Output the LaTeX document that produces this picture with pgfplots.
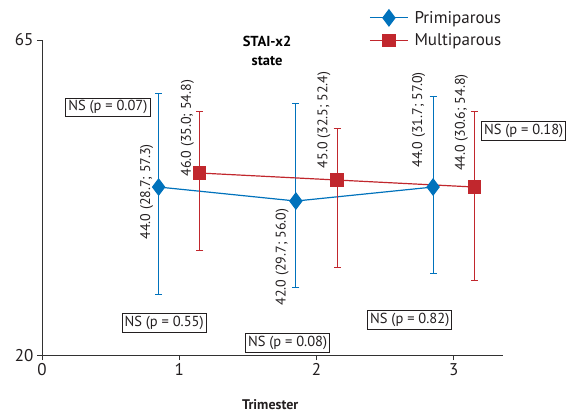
\documentclass[border=0pt]{standalone}
\usepackage{fontspec}
\setmainfont{PT Sans}
\usepackage{pgfplots}
\pgfplotsset{compat=1.18}
\definecolor{pblue}{RGB}{0,114,188}
\definecolor{mred}{RGB}{193,39,45}
\definecolor{axgray}{RGB}{50,50,50}
\definecolor{txt}{RGB}{35,31,32}

\begin{document}
\begin{tikzpicture}
\begin{axis}[
  scale only axis, width=461pt, height=315pt,
  xmin=0, xmax=3.36, ymin=20, ymax=65,
  axis x line*=bottom, axis y line*=left,
  axis line style={-, axgray, line width=1pt},
  xtick={0,1,2,3}, ytick={20,65},
  tick align=outside, major tick length=5pt,
  tick style={axgray, line width=0.9pt},
  tick label style={font=\fontsize{17}{19}\selectfont, text=txt},
  /pgf/number format/assume math mode=true,
  xlabel={\textbf{Trimester}},
  xlabel style={at={(axis description cs:0.495,0)}, anchor=center, yshift=-50pt,
    font=\fontsize{14}{16}\selectfont, text=txt},
  clip=false,
  legend style={at={(0.703,1.105)}, anchor=north west, draw=none, fill=none,
    font=\fontsize{17}{19}\selectfont, text=txt, row sep=5pt,
    /tikz/every odd column/.append style={column sep=4pt}},
  legend cell align=left,
  legend image code/.code={
    \draw[mark repeat=2, mark phase=2] plot coordinates {(0pt,0pt) (19pt,0pt) (38pt,0pt)};},
  every node/.append style={text=txt},
]
% Primiparous: median (min; max)
\addplot[pblue, line width=1.2pt, mark=diamond*, mark size=8pt,
  error bars/.cd, y dir=both, y explicit,
  error bar style={line width=0.9pt, pblue},
  error mark options={rotate=90, mark size=3.5pt, line width=0.9pt, pblue}]
  coordinates {
  (0.85,44.0) += (0,13.3) -= (0,15.3)
  (1.85,42.0) += (0,14.0) -= (0,12.3)
  (2.85,44.0) += (0,13.0) -= (0,12.3)
};
\addlegendentry{Primiparous}
% Multiparous
\addplot[mred, line width=1.2pt, mark=square*, mark size=6pt,
  error bars/.cd, y dir=both, y explicit,
  error bar style={line width=0.9pt, mred},
  error mark options={rotate=90, mark size=3.5pt, line width=0.9pt, mred}]
  coordinates {
  (1.15,46.0) += (0,8.8) -= (0,11.0)
  (2.15,45.0) += (0,7.4) -= (0,12.5)
  (3.15,44.0) += (0,10.8) -= (0,13.4)
};
\addlegendentry{Multiparous}

% value labels
\begin{scope}[every node/.style={rotate=90, font=\fontsize{14}{16}\selectfont, text=txt}]
\node at (axis cs:0.763,43.3) {44.0 (28.7; 57.3)};
\node at (axis cs:1.06,52.4) {46.0 (35.0; 54.8)};
\node at (axis cs:1.75,34.0) {42.0 (29.7; 56.0)};
\node at (axis cs:2.055,53.6) {45.0 (32.5; 52.4)};
\node at (axis cs:2.745,53.6) {44.0 (31.7; 57.0)};
\node at (axis cs:3.057,53.2) {44.0 (30.6; 54.8)};
\end{scope}

% p-value boxes
\begin{scope}[every node/.style={draw=txt, line width=0.8pt, inner sep=2.5pt, fill=white,
    font=\fontsize{14.5}{16}\selectfont, text=txt}]
\node at (axis cs:0.48,55.4) {NS (p = 0.07)};
\node at (axis cs:3.51,52.0) {NS (p = 0.18)};
\node at (axis cs:0.89,24.6) {NS (p = 0.55)};
\node at (axis cs:1.79,21.7) {NS (p = 0.08)};
\node at (axis cs:2.68,25.0) {NS (p = 0.82)};
\end{scope}

\node[align=center, font=\bfseries\fontsize{14.5}{19}\selectfont] at (axis cs:1.64,63.5) {STAI-x2\\state};

% page extent
\path (rel axis cs:-0.0911,-0.187) rectangle (rel axis cs:1.156,1.127);
\end{axis}
\end{tikzpicture}
\end{document}
